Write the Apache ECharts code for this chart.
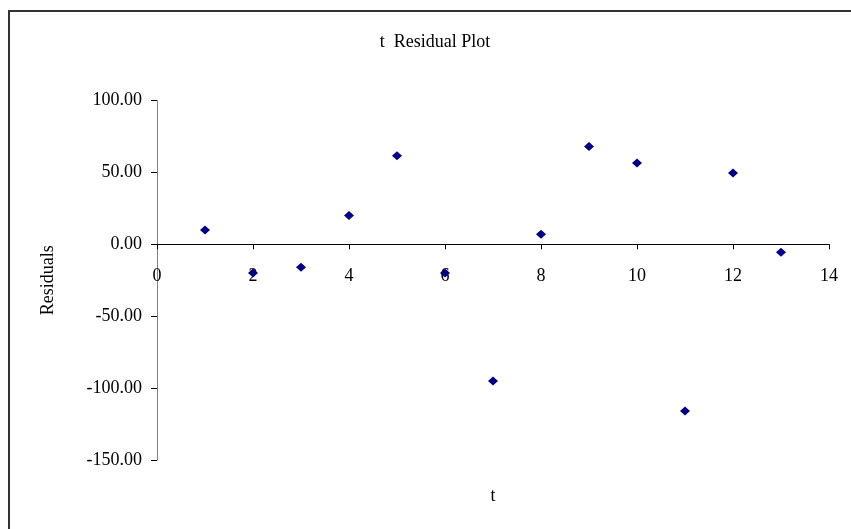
<!DOCTYPE html>
<html>
<head>
<meta charset="utf-8">
<style>
  html, body { margin: 0; padding: 0; background: #fff; }
  #chart { width: 851px; height: 529px; }
</style>
<script src="https://cdn.jsdelivr.net/npm/echarts@6/dist/echarts.min.js"></script>
</head>
<body>
<div id="chart"></div>
<script>
// Observation index and residual of each fitted point
const tValues = [1, 2, 3, 4, 5, 6, 7, 8, 9, 10, 11, 12, 13];
const residuals = [10, -20, -16, 20, 61.5, -20, -95, 7, 68, 56.5, -116, 49.5, -5.5];

const chartTitle = 't  Residual Plot';
const xName = 't';
const yName = 'Residuals';

const serif = '"Liberation Serif", "Times New Roman", serif';

// Plot box and value ranges
const gridBox = { left: 157, right: 22, top: 100.5, bottom: 69 };
const yMin = -150, yMax = 100, yStep = 50;
const xMin = 0, xMax = 14, xStep = 2;

// The horizontal axis (with its labels) crosses the vertical axis at y = 0
const plotHeight = 529 - gridBox.top - gridBox.bottom;
const zeroOffset = -plotHeight * (0 - yMin) / (yMax - yMin);

const chart = echarts.init(document.getElementById('chart'), null, { renderer: 'canvas' });

chart.setOption({
  animation: false,
  backgroundColor: '#ffffff',
  textStyle: { fontFamily: serif, color: '#000' },
  graphic: [
    {
      type: 'rect',
      shape: { x: 9, y: 11, width: 900, height: 600 },
      style: { fill: 'none', stroke: '#333333', lineWidth: 2 },
      silent: true
    },
    {
      type: 'text',
      x: 435,
      y: 42,
      style: {
        text: chartTitle,
        fontFamily: serif,
        fontSize: 18,
        fill: '#000',
        textAlign: 'center',
        textVerticalAlign: 'middle'
      }
    }
  ],
  grid: Object.assign({ containLabel: false, outerBoundsMode: 'none' }, gridBox),
  xAxis: {
    type: 'value',
    position: 'bottom',
    offset: zeroOffset,
    min: xMin,
    max: xMax,
    interval: xStep,
    name: xName,
    nameLocation: 'middle',
    nameGap: 243,
    nameTextStyle: { fontFamily: serif, fontSize: 18, color: '#000' },
    axisLine: { onZero: false, lineStyle: { color: '#000', width: 1 } },
    axisTick: { show: true, inside: false, length: 5, lineStyle: { color: '#000' } },
    axisLabel: { fontFamily: serif, fontSize: 18, color: '#000', margin: 23 },
    splitLine: { show: false }
  },
  yAxis: {
    type: 'value',
    min: yMin,
    max: yMax,
    interval: yStep,
    name: yName,
    nameLocation: 'middle',
    nameGap: 100,
    nameRotate: 90,
    nameTextStyle: { fontFamily: serif, fontSize: 18, color: '#000' },
    axisLine: { show: true, onZero: false, lineStyle: { color: '#808080', width: 1 } },
    axisTick: { show: true, inside: false, length: 6, lineStyle: { color: '#000' } },
    axisLabel: {
      fontFamily: serif,
      fontSize: 18,
      color: '#000',
      margin: 15,
      formatter: v => v.toFixed(2)
    },
    splitLine: { show: false }
  },
  series: [
    {
      type: 'scatter',
      data: tValues.map((t, i) => [t, residuals[i]]),
      symbol: 'diamond',
      symbolSize: [10, 9],
      itemStyle: { color: '#000080', opacity: 1 },
      z: 5
    }
  ]
});
</script>
</body>
</html>
